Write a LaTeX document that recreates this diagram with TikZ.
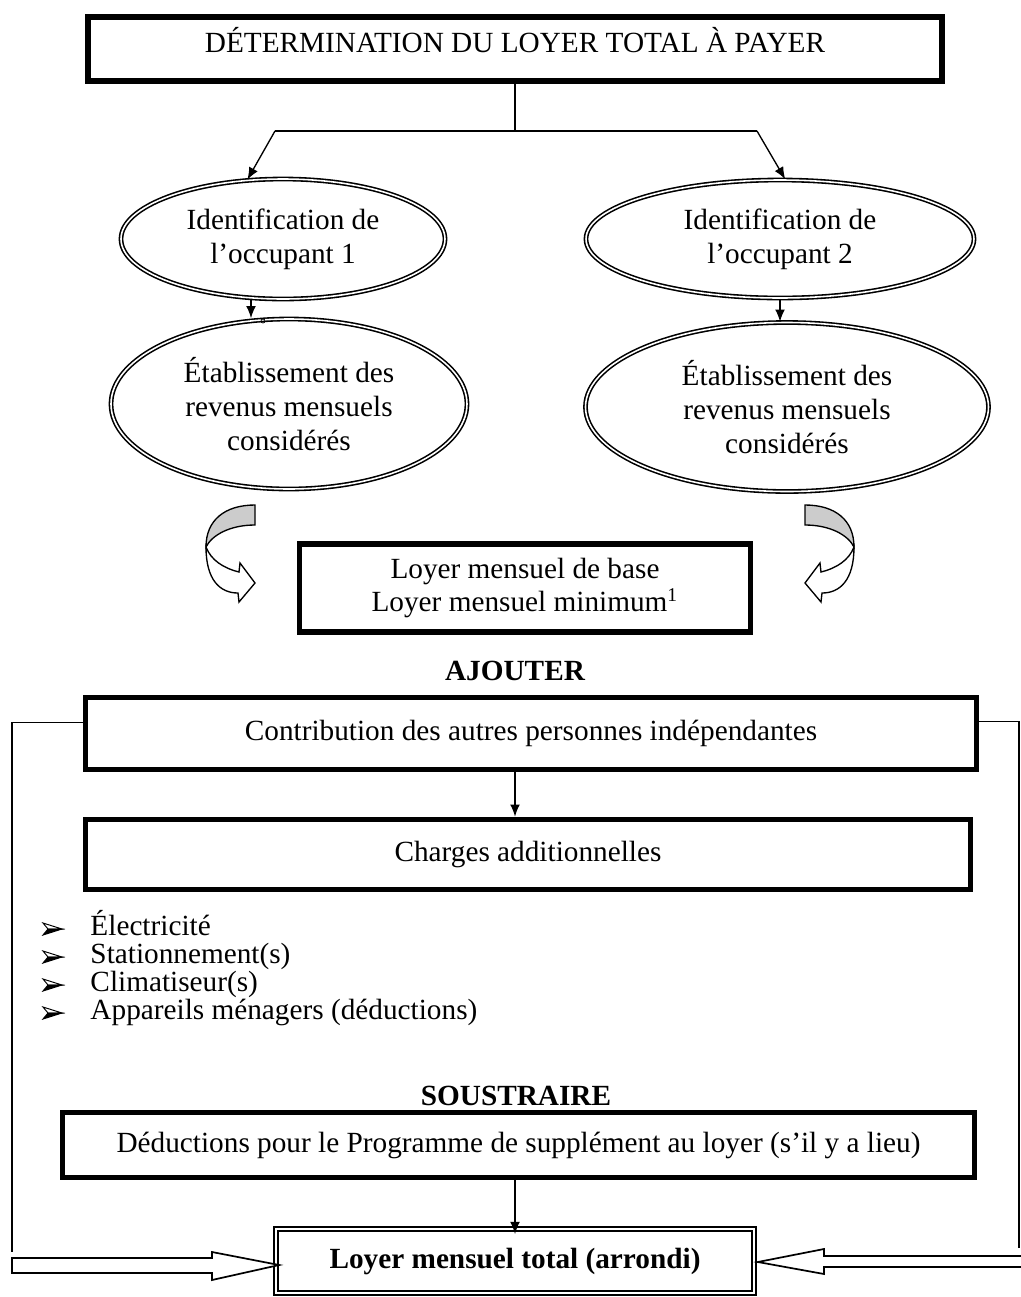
\documentclass[tikz,border=0pt]{standalone}
\usepackage{fontspec}
\setmainfont{Liberation Serif}
\usepackage{tikz}
\usetikzlibrary{positioning,calc,shapes.geometric,arrows.meta}

\begin{document}
\begin{tikzpicture}[x=0.41pt,y=-0.41pt,
  font=\fontsize{12pt}{13.8pt}\selectfont,
  thickbox/.style={draw,rectangle,line width=2.3pt,inner sep=0pt,align=center},
  dblellipse/.style={draw,ellipse,double,line width=0.65pt,double distance=0.65pt,
                     inner sep=0pt,align=center},
  link/.style={line width=0.55pt},
  tip/.style={link,-{Latex[length=5pt,width=4pt]}},
  hollow/.style={draw,line width=0.7pt,fill=white,line join=miter},
  uturn/.pic={
    % back of the band (grey), then the front with its head
    \filldraw[link,fill=gray!40] (0,0) .. controls (-30,0) and (-49,15) .. (-49,42)
        .. controls (-43,30) and (-25,20) .. (0,20) -- cycle;
    \filldraw[link,fill=white] (-49,42) .. controls (-49,75) and (-35,88) .. (-17,88)
        -- (-16,97) -- (0,78) -- (-15,58) -- (-16,67)
        .. controls (-32,63) and (-44,55) .. (-49,42) -- cycle;
  },
  bullet/.pic={
    \filldraw[line width=0.4pt] (0,6) -- (19,0) -- (5,0) -- cycle;
    \draw[line width=0.4pt] (0,-6) -- (19,0) -- (5,0) -- cycle;
  }]

% one unit of the picture is one pixel of the page
\def \dpx{0.41pt}

\useasboundingbox (0,0) rectangle (1021,1297);

% Title box
\node[thickbox, anchor=north, minimum width=854*\dpx,
      text height=36*\dpx, text depth=28*\dpx] (top) at (515,14)
      {DÉTERMINATION DU LOYER TOTAL À PAYER};

% The two occupants
\node[dblellipse, minimum width=324*\dpx, minimum height=120*\dpx] (occ1)
      at (283,239) {Identification de\\l’occupant 1};
\node[dblellipse, minimum width=388*\dpx, minimum height=118*\dpx] (occ2)
      at (780,239) {Identification de\\l’occupant 2};
\node[dblellipse, minimum width=356*\dpx, minimum height=170*\dpx] (rev1)
      at (289,404) {Établissement des\\revenus mensuels\\considérés};
\node[dblellipse, minimum width=403*\dpx, minimum height=169*\dpx] (rev2)
      at (787,407) {Établissement des\\revenus mensuels\\considérés};

% Base rent
\node[thickbox, minimum width=451*\dpx, minimum height=88*\dpx] (base)
      at (525,588) {Loyer mensuel de base\\Loyer mensuel minimum\textsuperscript{1}};

\node[anchor=base] (add) at (515,680) {\bfseries AJOUTER};

\node[thickbox, minimum width=891*\dpx, minimum height=72*\dpx] (contrib)
      at (531,733.5) {Contribution des autres personnes indépendantes};
\node[thickbox, minimum width=885*\dpx, minimum height=70*\dpx] (charges)
      at (528,854.5) {Charges additionnelles};

% List of the additional charges
\foreach \txt [count=\i] in {Électricité, Stationnement(s), Climatiseur(s),
                             Appareils ménagers (déductions)} {
  \node[anchor=base west, inner sep=0pt] (item\i) at (90,{935+28*(\i-1)}) {\txt};
  \pic at ($(item\i.base west)+(-47,-6)$) {bullet};
}

\node[anchor=base] (sub) at (516,1105) {\bfseries SOUSTRAIRE};

\node[thickbox, minimum width=912*\dpx, minimum height=65*\dpx] (deduc)
      at (518.5,1145) {Déductions pour le Programme de supplément au loyer (s’il y a lieu)};

% Result
\node[draw, double, line width=0.7pt, double distance=1pt,
      minimum width=478*\dpx, minimum height=64*\dpx] (final)
      at (515,1261) {\bfseries Loyer mensuel total (arrondi)};

% Split below the title
\coordinate (split)  at (515,131);
\coordinate (splitL) at (275,131);
\coordinate (splitR) at (757,131);
\draw[link] (top.south) -- (split);
\draw[link] (splitL) -- (splitR);
\draw[tip]  (splitL) -- (occ1.121);
\draw[tip]  (splitR) -- (occ2.85);

% From identification to income
\draw[tip] ($(occ1.south)+(-32,0)$) -- ($(rev1.north)+(-38,0)$);
\draw[tip] (occ2.south) -- (rev2.north -| occ2.south);
\draw[line width=0.3pt] (263,321) circle [radius=2];

% Turning arrows towards the base rent
\pic at (255,505) {uturn};
\pic[xscale=-1] at (805,505) {uturn};

% Straight down the middle
\draw[tip] (contrib.south -| top.south) -- (charges.north -| top.south);
\draw[tip] (deduc.south -| final.north) -- ($(final.north)+(0,6)$);

% Side lines and hollow arrows into the result
\coordinate (sideL) at (12,1252);
\coordinate (sideR) at (1019,1248);
\draw[link] ($(contrib.west)+(0,-11)$) -| (sideL);
\draw[link] ($(contrib.east)+(0,-12)$) -| (sideR);
\draw[hollow] (12,1258) -- (212,1258) -- (212,1252) -- ($(final.west)+(4,4)$)
      -- (212,1280) -- (212,1273) -- (12,1273) -- cycle;
\draw[hollow] (1030,1256) -- (824,1256) -- (824,1249) -- ($(final.east)+(3,1)$)
      -- (824,1274) -- (824,1267) -- (1030,1267);
\end{tikzpicture}
\end{document}
